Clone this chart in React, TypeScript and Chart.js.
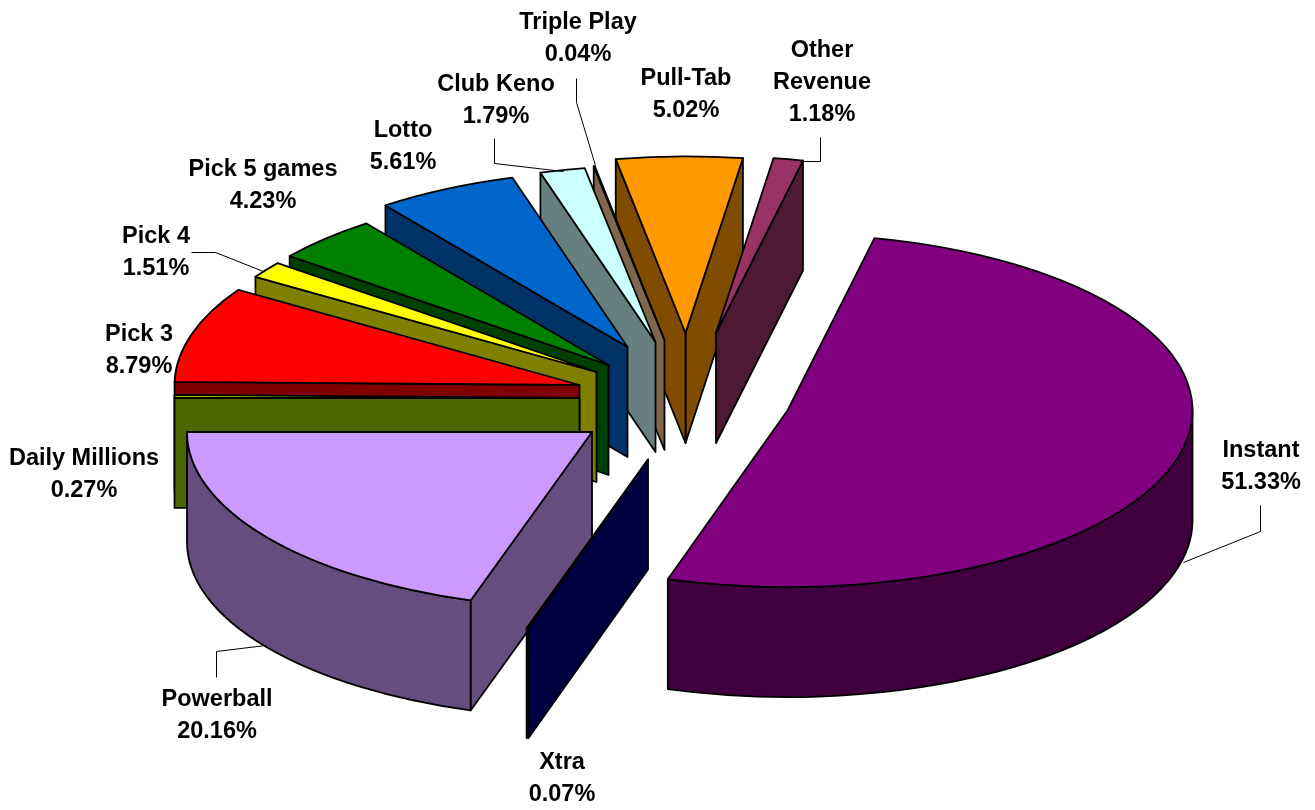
import React, { useEffect, useRef } from "react";
import { Chart, registerables } from "chart.js";

Chart.register(...registerables);

const categories = ["Instant", "Xtra", "Powerball", "Daily Millions", "Pick 3", "Pick 4", "Pick 5 games", "Lotto", "Club Keno", "Triple Play", "Pull-Tab", "Other Revenue"];
const shares = [51.33, 0.07, 20.16, 0.27, 8.79, 1.51, 4.23, 5.61, 1.79, 0.04, 5.02, 1.18];
const topColors = ["#800080", "#000080", "#CC99FF", "#99CC00", "#FF0000", "#FFFF00", "#008000", "#0066CC", "#CCFFFF", "#FFCC99", "#FF9900", "#993366"];
const sideColors = ["#400040", "#000040", "#664D80", "#4C6600", "#800000", "#808000", "#004000", "#003366", "#668080", "#80664D", "#804D00", "#4D1933"];

// Explosion of every slice, in pixels from the pie's own centre.
const explodeX = [130, -9.5, -65.5, -78, -78, -61, -49, -30, -2, 7, 28, 58.5];
const explodeY = [5.5, 54.5, 27, -7, -20, -33, -40, -58, -63, -65, -72, -72];
// Slices painted back to front.
const paintOrder = [10, 11, 9, 8, 7, 6, 5, 4, 3, 2, 1, 0];

// Style of the 3D projection.
const FIRST_ANGLE = 12.4;
const SQUASH = 0.436;
const DEPTH = 110;
const LINE = 1.8;

// Label anchors: centre x, centre y of first line.
const labelX = [1261, 562, 217, 84, 139, 156, 263, 403, 496, 578, 686, 822];
const labelY = [451, 763, 700, 459, 335, 237, 170, 131, 85, 23, 79, 51];
const LINE_GAP = 32;
const leaderLines: [number, number][][] = [
  [[1260, 505], [1260, 531], [1183, 562]],
  [[216, 677], [216, 651], [265, 645]],
  [[191, 252], [215, 252], [263, 271]],
  [[494, 138], [494, 163], [563, 171]],
  [[576, 78], [576, 102], [595, 165]],
  [[820, 137], [820, 161], [800, 161]],
];

const pie3d = {
  id: "pie3d",
  beforeDatasetsDraw(chart: any) {
    const ctx: CanvasRenderingContext2D = chart.ctx;
    const arcs = chart.getDatasetMeta(0).data;
    ctx.save();
    ctx.lineJoin = "round";
    ctx.lineWidth = LINE;
    ctx.strokeStyle = "#000";
    for (const i of paintOrder) {
      const a = arcs[i];
      const { startAngle: s, endAngle: e, outerRadius: r } = a;
      const ry = r * SQUASH;
      const cx = a.x + explodeX[i];
      const cy = a.y + explodeY[i];
      const px = (t: number) => cx + r * Math.cos(t);
      const py = (t: number) => cy + ry * Math.sin(t);

      // radial faces that look towards the viewer
      ctx.fillStyle = sideColors[i];
      const faces = [];
      if (Math.cos(e) > 0) faces.push(e);
      if (Math.cos(s) < 0) faces.push(s);
      for (const t of faces) {
        ctx.beginPath();
        ctx.moveTo(cx, cy);
        ctx.lineTo(px(t), py(t));
        ctx.lineTo(px(t), py(t) + DEPTH);
        ctx.lineTo(cx, cy + DEPTH);
        ctx.closePath();
        ctx.fill();
        ctx.stroke();
      }
      // front-facing part of the rim
      for (let k = -1; k <= 2; k++) {
        const from = Math.max(s, 2 * Math.PI * k);
        const to = Math.min(e, 2 * Math.PI * k + Math.PI);
        if (to <= from) continue;
        ctx.beginPath();
        ctx.ellipse(cx, cy, r, ry, 0, from, to);
        ctx.lineTo(px(to), py(to) + DEPTH);
        ctx.ellipse(cx, cy + DEPTH, r, ry, 0, to, from, true);
        ctx.closePath();
        ctx.fill();
        ctx.stroke();
      }
      // top
      ctx.fillStyle = a.options.backgroundColor;
      ctx.beginPath();
      ctx.moveTo(cx, cy);
      ctx.ellipse(cx, cy, r, ry, 0, s, e);
      ctx.closePath();
      ctx.fill();
      ctx.stroke();
    }
    ctx.restore();
    return false;
  },
  afterDraw(chart: any) {
    const ctx: CanvasRenderingContext2D = chart.ctx;
    ctx.save();
    ctx.strokeStyle = "#000";
    ctx.lineWidth = 1;
    for (const pts of leaderLines) {
      ctx.beginPath();
      pts.forEach(([x, y], j) => (j ? ctx.lineTo(x + 0.5, y + 0.5) : ctx.moveTo(x + 0.5, y + 0.5)));
      ctx.stroke();
    }
    ctx.fillStyle = "#000";
    ctx.font = 'bold 23.5px "Liberation Sans", Arial, sans-serif';
    ctx.textAlign = "center";
    ctx.textBaseline = "middle";
    categories.forEach((name, i) => {
      const lines = name === "Other Revenue" ? name.split(" ") : [name];
      lines.push(shares[i].toFixed(2) + "%");
      lines.forEach((t, j) => ctx.fillText(t, labelX[i], labelY[i] + j * LINE_GAP));
    });
    ctx.restore();
  },
};

export default function App() {
  const ref = useRef<HTMLCanvasElement>(null);
  useEffect(() => {
    const chart = new Chart(ref.current!, {
      type: "pie",
      data: {
        labels: categories,
        datasets: [{ data: shares, backgroundColor: topColors, borderWidth: 0 }],
      },
      options: {
        animation: false,
        responsive: false,
        rotation: FIRST_ANGLE,
        layout: { padding: 0 },
        plugins: { legend: { display: false }, tooltip: { enabled: false } },
      },
      plugins: [pie3d],
    } as any);
    return () => chart.destroy();
  }, []);
  return (
    <canvas
      ref={ref}
      width={1315}
      height={810}
      style={{ position: "absolute", left: 0, top: 0, width: 1315, height: 810, display: "block", background: "#fff" }}
    />
  );
}
